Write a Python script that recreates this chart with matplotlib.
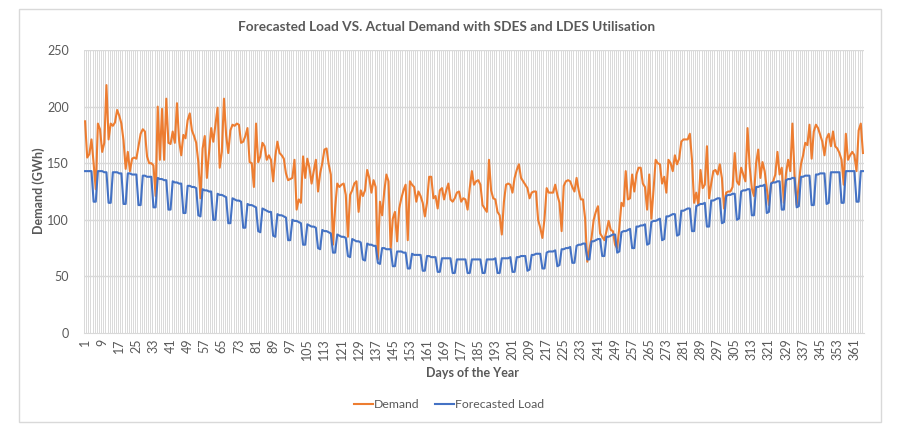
import matplotlib.pyplot as plt
import matplotlib.patches as patches
import numpy as np

plt.rcParams['font.family'] = ['Lato', 'DejaVu Sans']

# daily demand (GWh), days 1..365
demand = [
    187, 155, 158, 171, 150, 127, 185, 180, 160, 168,
    219, 171, 185, 183, 186, 197, 192, 185, 170, 145,
    160, 143, 154, 155, 154, 165, 176, 180, 178, 156,
    150, 150, 148, 121, 200, 153, 198, 153, 207, 168,
    167, 178, 168, 203, 170, 157, 175, 172, 188, 194,
    179, 174, 168, 151, 119, 163, 174, 137, 159, 181,
    169, 184, 199, 146, 160, 207, 175, 159, 179, 184,
    183, 185, 184, 168, 169, 174, 181, 151, 150, 129,
    185, 151, 156, 168, 165, 153, 157, 153, 134, 156,
    169, 159, 157, 154, 141, 135, 136, 137, 153, 109,
    118, 115, 156, 137, 154, 146, 132, 143, 153, 125,
    141, 150, 162, 163, 149, 140, 78, 110, 132, 129,
    131, 132, 122, 85, 122, 126, 132, 134, 107, 126,
    121, 126, 144, 137, 124, 135, 129, 65, 116, 104,
    125, 140, 134, 74, 101, 107, 81, 110, 119, 126,
    131, 82, 134, 131, 129, 116, 125, 121, 115, 103,
    115, 138, 138, 119, 121, 110, 126, 128, 118, 126,
    132, 118, 116, 119, 124, 125, 116, 119, 118, 109,
    128, 143, 131, 134, 135, 131, 113, 110, 107, 153,
    126, 119, 118, 107, 104, 87, 116, 131, 132, 131,
    124, 137, 144, 149, 137, 134, 131, 128, 119, 124,
    125, 125, 100, 93, 84, 101, 128, 124, 124, 124,
    131, 122, 115, 90, 130, 134, 135, 134, 129, 125,
    137, 126, 118, 118, 101, 63, 74, 84, 100, 107,
    112, 88, 85, 82, 90, 99, 91, 90, 78, 75,
    93, 115, 112, 143, 118, 119, 140, 125, 140, 146,
    146, 132, 129, 109, 140, 101, 126, 153, 150, 149,
    132, 138, 124, 153, 150, 143, 157, 149, 154, 169,
    171, 171, 171, 176, 153, 115, 124, 113, 144, 128,
    131, 165, 119, 132, 143, 144, 140, 149, 137, 110,
    124, 125, 125, 129, 159, 134, 131, 146, 140, 134,
    181, 147, 128, 121, 150, 162, 137, 151, 143, 128,
    113, 132, 134, 140, 160, 140, 146, 115, 141, 153,
    143, 185, 140, 113, 132, 149, 157, 168, 166, 184,
    154, 178, 184, 181, 175, 169, 157, 172, 176, 165,
    178, 165, 163, 159, 153, 131, 176, 153, 157, 160,
    157, 143, 179, 185, 159,
]

# forecasted load (GWh), one row per week
forecast = [
    143, 143, 143, 143, 116, 116, 143,
    143, 143, 142, 142, 115, 115, 142,
    142, 142, 141, 141, 114, 114, 141,
    141, 140, 140, 140, 113, 113, 139,
    139, 138, 138, 138, 111, 111, 137,
    136, 136, 135, 135, 109, 109, 134,
    133, 133, 132, 132, 106, 106, 130,
    130, 129, 129, 128, 104, 103, 127,
    126, 126, 125, 125, 100, 100, 123,
    122, 122, 121, 120, 97, 97, 119,
    118, 117, 117, 116, 93, 93, 114,
    113, 113, 112, 111, 90, 89, 110,
    109, 108, 107, 107, 86, 85, 105,
    104, 104, 103, 102, 82, 82, 100,
    99, 99, 98, 97, 78, 78, 96,
    95, 94, 94, 93, 75, 74, 91,
    90, 90, 89, 88, 71, 71, 87,
    86, 85, 85, 84, 68, 67, 83,
    82, 81, 81, 80, 65, 64, 79,
    78, 78, 77, 77, 62, 61, 75,
    75, 74, 74, 74, 59, 59, 72,
    72, 72, 71, 71, 57, 57, 70,
    69, 69, 69, 69, 55, 55, 68,
    68, 67, 67, 67, 54, 54, 66,
    66, 66, 66, 66, 53, 53, 65,
    65, 65, 65, 65, 53, 53, 65,
    65, 65, 65, 65, 53, 53, 65,
    65, 65, 65, 66, 53, 53, 66,
    66, 66, 66, 67, 54, 54, 67,
    67, 68, 68, 68, 55, 56, 69,
    69, 70, 70, 70, 57, 57, 71,
    72, 72, 72, 73, 59, 60, 74,
    74, 75, 75, 76, 62, 62, 77,
    78, 78, 79, 79, 65, 65, 81,
    81, 82, 83, 83, 68, 68, 85,
    85, 86, 87, 87, 71, 72, 89,
    90, 90, 91, 92, 75, 75, 94,
    94, 95, 95, 96, 78, 79, 98,
    99, 99, 100, 101, 82, 83, 103,
    103, 104, 105, 105, 86, 87, 108,
    108, 109, 110, 110, 90, 90, 112,
    113, 114, 114, 115, 94, 94, 117,
    117, 118, 119, 119, 97, 98, 121,
    122, 122, 123, 123, 100, 101, 125,
    126, 126, 127, 127, 104, 104, 129,
    129, 130, 130, 131, 106, 107, 132,
    133, 133, 134, 134, 109, 109, 135,
    136, 136, 137, 137, 111, 112, 138,
    138, 139, 139, 139, 113, 113, 140,
    140, 141, 141, 141, 114, 115, 142,
    142, 142, 142, 142, 115, 115, 143,
    143, 143, 143, 143, 116, 116, 143,
    143,
]

days = np.arange(1, len(demand) + 1)
tick_days = days[::8]
yticks = [0, 50, 100, 150, 200, 250]

text_col = '#595959'
grid_col = '#d9d9d9'

fig = plt.figure(figsize=(9, 4.29), dpi=100)
W, H = 900, 429
ax = fig.add_axes([84 / W, 1 - 333 / H, (864 - 84) / W, (333 - 50) / H])

# chart area border
fig.patches.append(patches.Rectangle((19 / W, 1 - 422 / H), (881 - 19) / W, (422 - 9) / H,
                                     transform=fig.transFigure, fill=False,
                                     edgecolor=grid_col, linewidth=1))

# category gridlines, one per day
ax.vlines(np.arange(0.5, len(days) + 1), 0, 250, color=grid_col, linewidth=0.7, zorder=0)
for y in yticks[1:]:
    ax.axhline(y, color=grid_col, linewidth=1, zorder=0)

ax.plot(days, demand, color='#ED7D31', linewidth=1.5, label='Demand', zorder=3)
ax.plot(days, forecast, color='#4472C4', linewidth=1.5, label='Forecasted Load', zorder=3)

ax.set_xlim(0.5, len(days) + 0.5)
ax.set_ylim(0, 250)
ax.set_yticks(yticks)
ax.set_xticks(tick_days)
ax.set_xticklabels([str(d) for d in tick_days], rotation=90)
ax.tick_params(axis='both', length=0, labelsize=9, labelcolor=text_col)
ax.tick_params(axis='y', pad=11)
ax.tick_params(axis='x', pad=4)
for side in ['top', 'right', 'left']:
    ax.spines[side].set_visible(False)
ax.spines['bottom'].set_color(grid_col)

fig.text(447 / W, 1 - 27 / H, 'Forecasted Load VS. Actual Demand with SDES and LDES Utilisation',
         ha='center', va='center', fontsize=9.8, fontweight='bold', color=text_col)
fig.text(473 / W, 1 - 373 / H, 'Days of the Year', ha='center', va='center',
         fontsize=9, fontweight='bold', color=text_col)
fig.text(39 / W, 1 - 191 / H, 'Demand (GWh)', ha='center', va='center', rotation=90,
         fontsize=9, fontweight='bold', color=text_col)

leg = fig.legend(loc='center', bbox_to_anchor=(449 / W, 1 - 405 / H), ncol=2, frameon=False,
                 fontsize=8.8, handlelength=1.6, handletextpad=0.1, columnspacing=1.2)
for t in leg.get_texts():
    t.set_color(text_col)

fig.savefig('out.png', dpi=100)
